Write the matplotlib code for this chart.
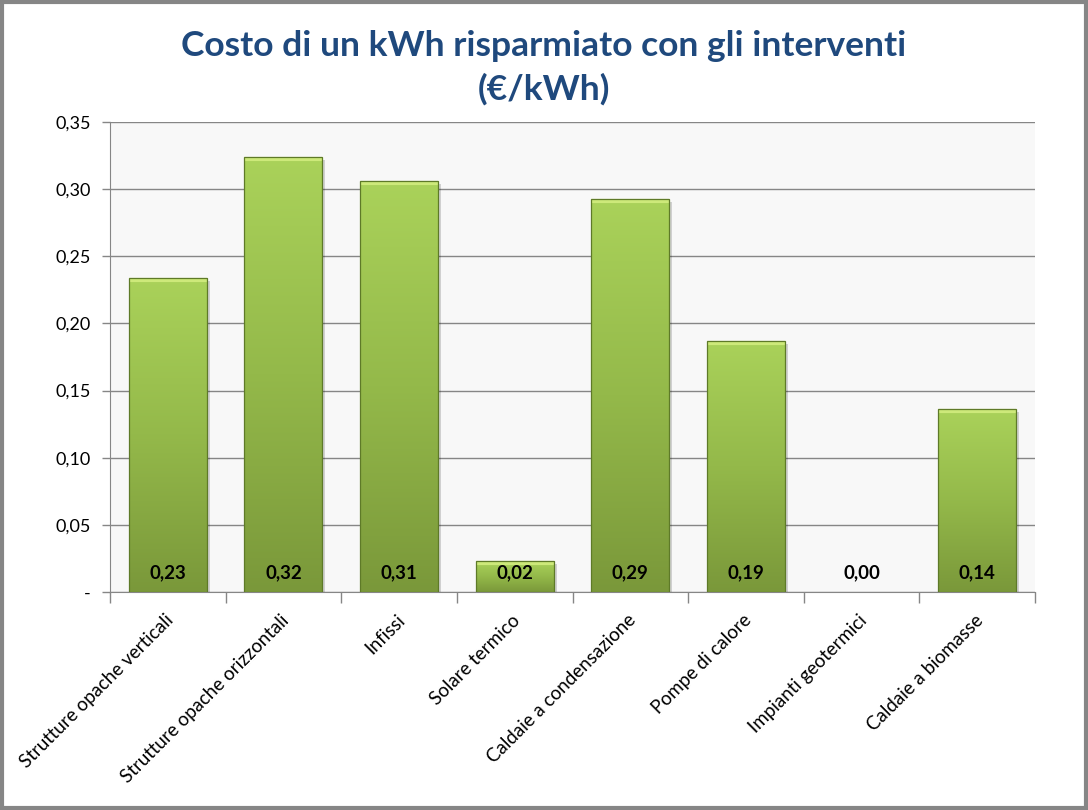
import numpy as np
import matplotlib
matplotlib.use("Agg")
import matplotlib.pyplot as plt
from matplotlib.colors import LinearSegmentedColormap
from matplotlib.patches import Rectangle
import matplotlib.transforms as mtransforms

categories = ["Strutture opache verticali", "Strutture opache orizzontali", "Infissi",
              "Solare termico", "Caldaie a condensazione", "Pompe di calore",
              "Impianti geotermici", "Caldaie a biomasse"]
values = [0.234, 0.324, 0.306, 0.023, 0.293, 0.187, 0.0, 0.136]
yticks = [0, 0.05, 0.10, 0.15, 0.20, 0.25, 0.30, 0.35]

plt.rcParams['font.family'] = ['Lato', 'DejaVu Sans']

fig = plt.figure(figsize=(10.88, 8.10), dpi=100)
ax = fig.add_axes([110/1088, 218/810, 925/1088, 470/810])

# grey frame around the whole chart
fig.patches.append(Rectangle((0.0015, 0.002), 0.997, 0.996, transform=fig.transFigure,
                             fill=False, edgecolor='#868686', linewidth=3))

fig.text(0.5, 0.943, "Costo di un kWh risparmiato con gli interventi", ha='center', va='center',
         fontsize=25.5, fontweight='bold', color='#1F497D')
fig.text(0.5, 0.890, "(€/kWh)", ha='center', va='center',
         fontsize=25.5, fontweight='bold', color='#1F497D')

ax.set_facecolor('#f8f8f8')
x = np.arange(len(categories))
bars = ax.bar(x, values, width=0.675, color='#9cc44c', edgecolor='none', zorder=3)

cmap = LinearSegmentedColormap.from_list('g', ['#7a983a', '#94b94a', '#aad25a'])
grad = np.linspace(0, 1, 256).reshape(-1, 1)
shadow_off = mtransforms.offset_copy(ax.transData, fig=fig, x=3, y=-3, units='dots')
top_in = mtransforms.offset_copy(ax.transData, fig=fig, x=0, y=-2, units='dots')
for b in bars:
    h = b.get_height()
    if h <= 0:
        continue
    x0, w = b.get_x(), b.get_width()
    ax.add_patch(Rectangle((x0, 0), w, h, transform=shadow_off, facecolor='#000000',
                           alpha=0.16, edgecolor='none', zorder=2))
    im = ax.imshow(grad, extent=(x0, x0 + w, 0, h), origin='lower', aspect='auto',
                   cmap=cmap, zorder=3.5)
    im.set_clip_path(b)
    ax.plot([x0, x0 + w], [h, h], color='#cde97a', linewidth=3, zorder=3.6,
            solid_capstyle='butt', transform=top_in)
    ax.add_patch(Rectangle((x0, 0), w, h, fill=False, edgecolor='#5e7a28',
                           linewidth=0.9, zorder=3.7))

for xi, v in zip(x, values):
    ax.annotate(f"{v:.2f}".replace('.', ','), xy=(xi, 0), xytext=(0, 14), textcoords='offset points',
                ha='center', va='center', fontsize=13.5, fontweight='bold', color='black', zorder=5)

ax.set_xlim(-0.5, len(categories) - 0.5)
ax.set_ylim(0, 0.35)
ax.set_yticks(yticks)
ax.set_yticklabels(["-" if t == 0 else f"{t:.2f}".replace('.', ',') for t in yticks], fontsize=13)
ax.yaxis.grid(True, color='#868686', linewidth=1, zorder=1)
ax.set_axisbelow(True)

ax.set_xticks(x)
ax.set_xticklabels(categories, rotation=45, ha='right', va='top', rotation_mode='anchor', fontsize=13.5)
ax.set_xticks(np.arange(len(categories) + 1) - 0.5, minor=True)
ax.tick_params(axis='x', which='major', length=0, pad=14)
ax.tick_params(axis='x', which='minor', length=8, color='#868686', width=1)
ax.tick_params(axis='y', length=6, color='#868686', width=1, pad=8)
shift = mtransforms.ScaledTranslation(-3/100, 0, fig.dpi_scale_trans)
for lab in ax.get_xticklabels():
    lab.set_transform(lab.get_transform() + shift)

for s in ['top', 'right']:
    ax.spines[s].set_visible(False)
ax.spines['left'].set_color('#868686')
ax.spines['bottom'].set_color('#868686')

fig.savefig("out.png", dpi=100, facecolor='white')
